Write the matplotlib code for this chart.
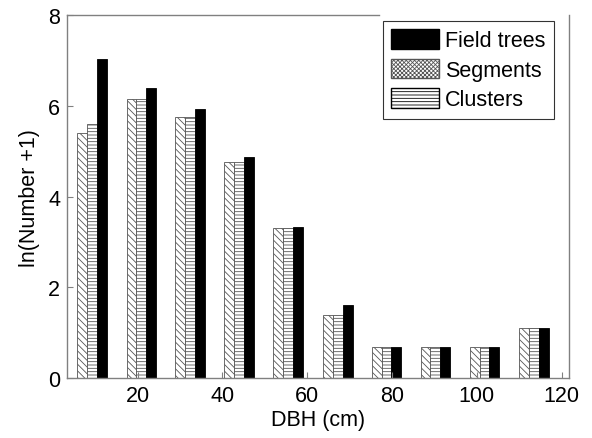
import matplotlib
matplotlib.use("Agg")
import matplotlib.pyplot as plt
from matplotlib.patches import Patch
import numpy as np

plt.rcParams['font.family'] = ['Liberation Sans', 'DejaVu Sans']
plt.rcParams['hatch.linewidth'] = 0.6

# DBH class centres (cm) and ln(Number+1) per class
dbh = [9.3, 20.9, 32.4, 43.9, 55.5, 67.2, 78.7, 90.2, 101.8, 113.5]
segments = [5.40, 6.15, 5.76, 4.76, 3.30, 1.39, 0.69, 0.69, 0.69, 1.10]
clusters = [5.60, 6.15, 5.76, 4.76, 3.30, 1.39, 0.69, 0.69, 0.69, 1.10]
field_trees = [7.03, 6.39, 5.94, 4.87, 3.34, 1.62, 0.69, 0.69, 0.69, 1.10]

x_ticks = [20, 40, 60, 80, 100, 120]
y_ticks = [0, 2, 4, 6, 8]

fs = 15.5

fig = plt.figure(figsize=(5.92, 4.39), dpi=100)
ax = fig.add_axes([0.1137, 0.136, 0.8473, 0.8276])

x = np.array(dbh)
w = 2.32
ax.bar(x - w, segments, w, color='white', edgecolor='#555555', hatch='\\\\\\\\\\', linewidth=0.6)
ax.bar(x, clusters, w, color='white', edgecolor='#555555', hatch='-----', linewidth=0.6)
ax.bar(x + w, field_trees, w, color='black', edgecolor='black', linewidth=0.6)

ax.set_xlim(3.44, 121.7)
ax.set_ylim(0, 8)
ax.set_xticks(x_ticks)
ax.set_yticks(y_ticks)
ax.tick_params(direction='in', length=4, width=0.8, color='#808080', labelsize=fs, pad=5)
for s in ax.spines.values():
    s.set_color('#808080')
    s.set_linewidth(1.0)
ax.spines['top'].set_visible(False)
ax.plot([0, 0.622], [1, 1], transform=ax.transAxes, color='#808080', lw=1.0, clip_on=False)

ax.set_xlabel('DBH (cm)', fontsize=fs, labelpad=2)
ax.set_ylabel('ln(Number +1)', fontsize=fs, labelpad=6)

handles = [
    Patch(facecolor='black', edgecolor='black', label='Field trees'),
    Patch(facecolor='white', edgecolor='#555555', hatch='xxxxxxxx', label='Segments'),
    Patch(facecolor='white', edgecolor='black', hatch='-----', label='Clusters'),
]
leg = fig.legend(handles=handles, loc='upper right', bbox_to_anchor=(0.9358, 0.9506),
                 fontsize=fs, frameon=True, fancybox=False, edgecolor='black',
                 handlelength=2.23, handleheight=1.0, handletextpad=0.26,
                 labelspacing=0.35, borderpad=0.4, borderaxespad=0)
leg.get_frame().set_linewidth(0.8)

fig.savefig('out.png', dpi=100)
